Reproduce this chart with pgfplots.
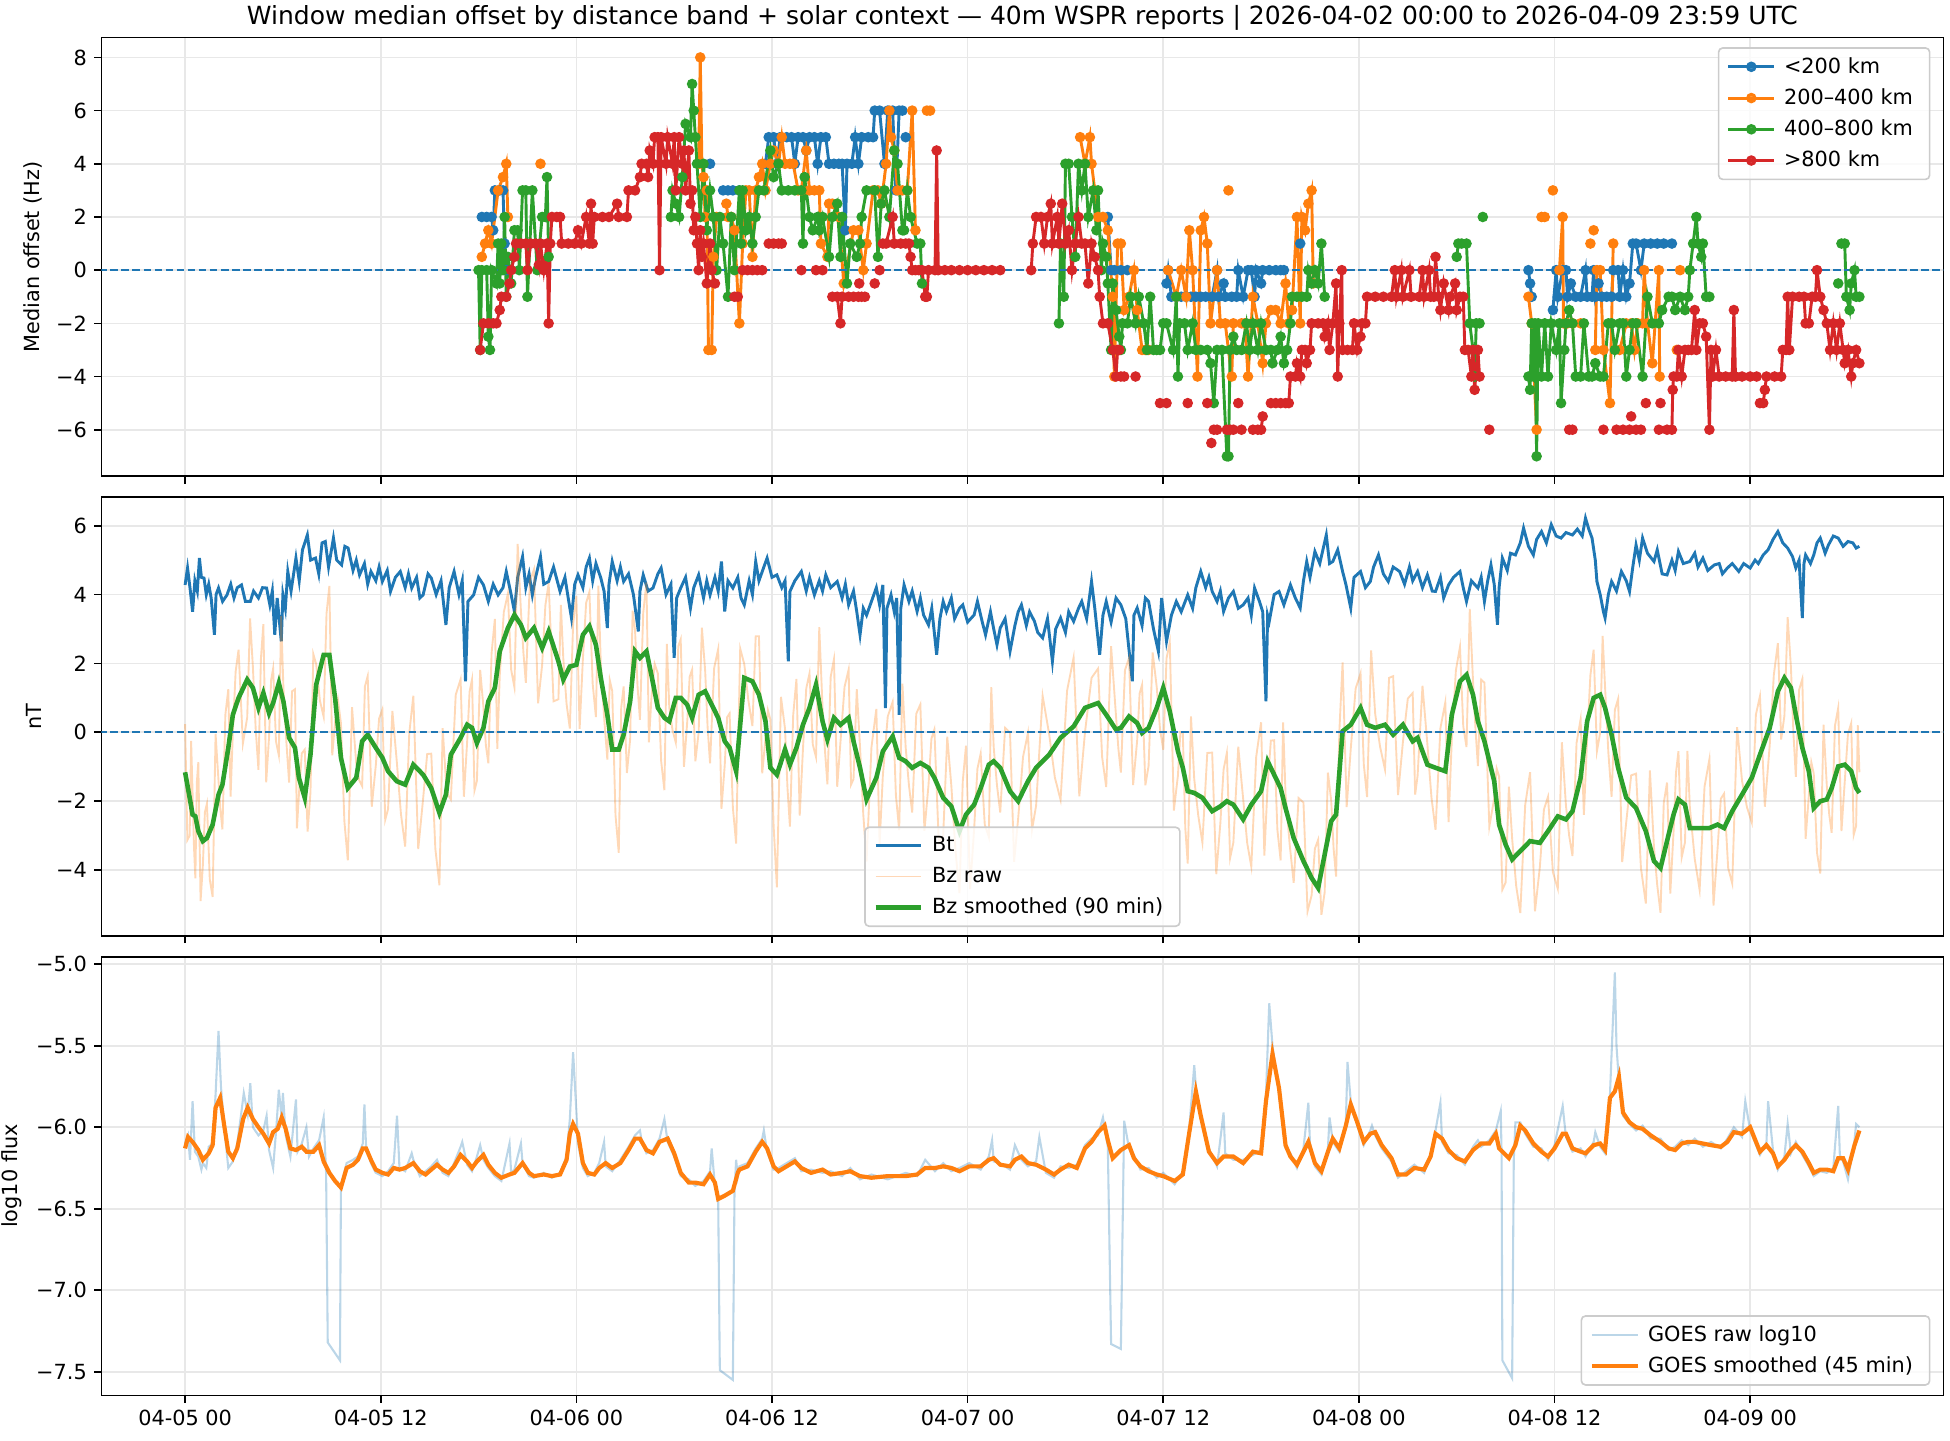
\documentclass[border=0pt]{standalone}
\usepackage{fontspec}
\setmainfont{DejaVu Sans}
\usepackage{pgfplots}
\pgfplotsset{compat=1.18}
\definecolor{C0}{HTML}{1F77B4}
\definecolor{C1}{HTML}{FF7F0E}
\definecolor{C2}{HTML}{2CA02C}
\definecolor{C3}{HTML}{D62728}
\definecolor{gridc}{HTML}{E8E8E8}
\definecolor{legc}{HTML}{CCCCCC}
\pgfplotsset{
 panel/.style={
  scale only axis, width=884.1pt, height=210.6pt,
  xmin=-5.13, xmax=107.85,
  xtick={0,12,...,96},
  grid=major, major grid style={gridc, line width=0.8pt},
  axis line style={line width=0.8pt, black},
  tick align=outside, tick pos=left,
  major tick length=3.5pt,
  every tick/.style={black, line width=0.8pt},
  tick label style={font=\fontsize{10}{12}\selectfont},
  label style={font=\fontsize{10}{12}\selectfont},
  unbounded coords=jump,
  legend cell align=left,
  legend image code/.code={\draw[mark repeat=2,mark phase=2,#1] plot coordinates {(0pt,0pt)(11pt,0pt)(22pt,0pt)};},
  legend style={draw=legc, rounded corners=2pt, fill=white, fill opacity=0.8, text opacity=1,
    line width=0.8pt, font=\fontsize{10}{12}\selectfont, inner xsep=4pt, inner ysep=2.5pt, row sep=1.9pt,
    nodes={inner xsep=4pt}},
 },
 zeroline/.style={C0, line width=1pt, dash pattern=on 3.7pt off 1.6pt, forget plot},
 off/.style={line width=1.4pt, mark=*, mark size=1.8pt},
}
\begin{document}
\begin{tikzpicture}
\path[use as bounding box] (0,0) rectangle (936pt,691.2pt);

%% ---------------- Panel 1 ----------------
\begin{axis}[panel, at={(48.7pt,462.6pt)}, anchor=south west,
  ymin=-7.75, ymax=8.75, ytick={-6,-4,-2,0,2,4,6,8},
  yticklabels={−6,−4,−2,0,2,4,6,8}, xticklabels={},
  ylabel={Median offset (Hz)},
  title={Window median offset by distance band + solar context — 40m WSPR reports | 2026-04-02 00:00 to 2026-04-09 23:59 UTC},
  title style={font=\fontsize{12}{14}\selectfont, yshift=-6pt},
  legend style={at={(0.993,0.978)}, anchor=north east}]
\addplot[C0, off, mark options={C0}] coordinates {
(18.2,2) (18.5,2) (18.8,2) (18.9,1.5) (19.0,3) (19.3,3) (19.5,3) (19.6,1) (19.7,0) (20,nan)
(32.2,4) (32.5,nan) (33.0,3) (33.3,3) (33.6,3) (34.0,3) (34.5,nan)
(35.6,4) (35.8,5) (36.1,5) (36.3,4) (36.5,5) (36.9,5) (37.2,5) (37.4,4) (37.6,5) (37.9,5) (38.1,4.5) (38.3,5) (38.6,5) (38.8,4) (39.0,5) (39.3,5) (39.5,4) (39.8,4) (40.1,4) (40.3,4) (40.5,1.5) (40.6,4) (40.9,4) (41.1,5) (41.3,4) (41.5,5) (41.9,5) (42.2,5) (42.3,6) (42.6,6) (42.9,4) (43.1,6) (43.4,6) (43.6,3) (43.8,6) (44.0,6) (44.1,nan) (44.2,5) (44.3,nan)
(56.6,2) (56.8,0) (57.0,0) (57.2,nan) (57.4,0) (57.8,0) (58,nan)
(60.2,-0.5) (60.3,0) (60.5,-1) (60.8,-1) (61.1,-1) (61.4,-1) (61.7,-1) (62.0,-1) (62.3,-1) (62.6,-1) (63.0,-1) (63.3,0) (63.4,-1) (63.7,-0.5) (63.8,-1) (64.2,-1) (64.5,-1) (64.6,0) (64.9,-1) (65.2,0) (65.4,0) (65.6,-1) (65.7,0) (66.0,-0.5) (66.1,0) (66.5,0) (66.9,0) (67.2,0) (67.4,0) (67.6,nan) (68.4,1) (68.6,nan)
(82.4,0) (82.5,-0.5) (82.6,-1) (82.8,nan) (83.9,-1.5) (84.1,0) (84.2,-1) (84.5,0) (84.7,0) (84.8,-1) (85.0,-0.5) (85.3,-1) (85.6,-1) (85.9,0) (86.0,-1) (86.3,-1) (86.4,0) (86.5,-1) (86.7,-0.5) (86.9,-1) (87.2,-1) (87.5,-1) (87.6,0) (87.9,0) (88.0,-1) (88.2,0) (88.4,-1) (88.6,-0.5) (88.8,1) (89.0,1) (89.3,0) (89.5,1) (89.9,1) (90.3,1) (90.7,1) (91.2,1)
};
\addlegendentry{<200 km}
\addplot[C1, off, mark options={C1}] coordinates {
(18.2,0.5) (18.4,1) (18.6,1.5) (18.8,1) (19.2,3) (19.5,3.5) (19.7,4) (19.8,2) (20,nan) (21.8,4) (22,nan)
(31.5,4) (31.6,8) (31.7,4) (31.8,3.5) (31.9,2) (32.0,3) (32.1,-3) (32.3,-3) (32.4,0.5) (32.6,2) (32.9,nan)
(33.2,2.5) (33.3,2) (33.5,2) (33.7,1.5) (34.0,-2) (34.2,1) (34.4,3) (34.6,3) (34.8,0.5) (35.0,3) (35.2,3.5) (35.4,4) (35.6,3) (35.9,4) (36.1,4.5) (36.4,4) (36.6,5) (36.8,4) (37.1,4) (37.3,4) (37.6,3) (37.8,3) (38.1,4.5) (38.3,3) (38.6,3) (38.9,3) (39.0,1) (39.4,0.5) (39.5,2.5) (39.7,2.5) (40.1,2) (40.4,-0.5) (41.0,1.5) (41.3,1.5) (41.6,0) (41.8,1) (42.2,3) (42.5,3) (42.7,2.5) (43.0,4) (43.2,6) (43.3,5) (43.5,4.5) (43.7,3) (44.0,3) (44.3,3) (44.6,6) (44.8,1.5) (45.1,nan) (45.5,6) (45.7,6) (46,nan)
(54.9,5) (55.2,4) (55.5,5) (55.6,4) (55.8,3) (56.0,2) (56.3,2) (56.6,1.5) (56.9,-1) (57.0,-4) (57.2,1) (57.4,1) (57.6,-1.5) (57.9,-1) (58.2,0) (58.4,-1.5) (58.7,-3) (58.9,-3) (59.1,-3) (59.5,nan)
(60.3,0) (60.8,-1) (61.1,0) (61.4,-1) (61.6,1.5) (61.8,0) (62.1,-4) (62.3,1.5) (62.5,2) (62.7,1) (62.9,-2) (63.3,0) (63.5,-2) (63.8,-2) (64.2,-4) (64.3,-2) (64.4,nan) (64.0,3) (64.1,nan)
(64.8,-2) (65.0,-2) (65.2,-4) (65.4,-2) (65.5,-1) (65.8,-2) (66.1,-3.5) (66.3,-2) (66.6,-1.5) (66.9,-1.5) (67.2,-2) (67.5,-0.5) (67.7,-2) (67.9,-1.5) (68.2,2) (68.4,-2) (68.5,2) (68.7,1.5) (68.9,2.5) (69.1,3) (69.2,-0.5) (69.4,nan)
(82.4,-1) (82.6,-2) (82.9,-6) (83.0,nan) (83.2,2) (83.4,2) (83.6,nan) (83.9,3) (84.1,nan) (84.3,0) (84.5,2) (84.55,-2) (84.8,-2) (85.1,-2) (85.6,-2) (85.9,nan) (86.2,1) (86.3,nan) (86.4,1.5) (86.45,nan)
(86.5,-3) (86.6,0) (86.8,0) (87.0,-3) (87.4,-5) (87.6,1) (87.8,nan) (88.0,-3) (88.4,-2) (88.7,-2) (88.9,-3) (89.1,-2) (89.4,-2) (89.5,0) (89.7,-2) (90.0,-3.5) (90.4,0) (90.45,-4) (90.7,nan) (91.5,-3) (91.6,nan) (91.7,0)
};
\addlegendentry{200–400 km}
\addplot[C2, off, mark options={C2}] coordinates {
(18.0,0) (18.1,-3) (18.2,0) (18.5,0) (18.6,-2.5) (18.7,-3) (18.8,0) (19.1,-0.5) (19.2,1) (19.3,-0.5) (19.4,1) (19.5,0) (19.6,2) (19.7,-1) (19.8,0.5) (20.0,-0.5) (20.2,1.5) (20.4,1.5) (20.5,0) (20.7,3) (20.9,3) (21.0,-1) (21.3,3) (21.6,0) (21.9,2) (22.1,2) (22.2,3.5) (22.3,0.5) (22.5,nan)
(29.8,2) (29.9,3) (30.1,2.5) (30.3,2) (30.5,3.5) (30.7,5.5) (31.0,5) (31.1,7) (31.2,6) (31.3,5) (31.4,4) (31.6,2) (31.8,4) (32.0,1.5) (32.2,3) (32.4,2) (32.6,0) (32.8,2) (33.0,1) (33.3,-1) (33.5,2) (33.7,0) (34.0,3) (34.1,1) (34.2,3) (34.4,1.5) (34.6,2) (34.8,1) (35.0,2) (35.2,3) (35.5,3) (35.9,4.5) (36.1,3.5) (36.4,4) (36.6,3) (37.0,3) (37.4,3) (37.8,3) (37.9,1) (38.0,3.5) (38.3,2) (38.5,1.5) (38.8,2) (38.9,1.5) (39.1,2) (39.5,0.5) (39.7,2) (40.0,2.5) (40.2,0.5) (40.3,2) (40.6,-0.5) (40.8,1) (41.2,0.5) (41.4,1) (41.5,2) (41.8,3) (42.3,3) (42.5,0.5) (42.7,2.5) (42.9,3) (43.2,2) (43.5,4.5) (43.7,4) (44.0,1.5) (44.1,1.5) (44.3,3) (44.5,2) (44.9,1) (45.1,1) (45.2,-0.5) (45.4,nan)
(53.6,-2) (53.7,1) (53.9,-1) (54.0,4) (54.2,4) (54.4,2) (54.6,0.5) (54.8,4) (55.0,3) (55.2,4) (55.4,2) (55.7,3) (55.9,1.5) (56.0,3) (56.2,0) (56.3,1) (56.5,0.5) (56.6,-0.5) (56.8,-3) (56.9,-0.5) (57.1,-1.5) (57.3,-2.5) (57.4,-3) (57.5,-2) (57.8,-2) (58.0,-1) (58.3,-2) (58.5,-1) (58.8,-2) (59.0,-3) (59.2,-1) (59.4,-3) (59.6,-3) (59.8,-3) (60.0,-2) (60.2,-2) (60.6,-3) (60.8,-1) (60.9,-4) (61.0,-2) (61.3,-2) (61.5,-3) (61.8,-2) (62.0,-3) (62.3,-3) (62.7,-3) (62.9,-3.5) (63.1,-5) (63.3,-3) (63.6,-3) (63.9,-7) (64.0,-7) (64.1,-3) (64.3,-2.5) (64.5,-3) (64.8,-3) (65.1,-2) (65.3,-3) (65.5,-2) (65.8,-3) (66.0,-2) (66.3,-3) (66.6,-3) (66.7,-3.5) (67.0,-3) (67.2,-2.5) (67.4,-3.5) (67.6,-3) (67.8,-2) (67.9,-1) (68.2,-1) (68.5,-1) (68.8,-1) (68.9,0) (69.1,-0.5) (69.3,0) (69.5,-0.5) (69.7,1) (69.9,-1) (70.1,nan)
(78.0,0.5) (78.1,1) (78.3,1) (78.6,1) (78.8,-2) (79.0,-3) (79.1,-4) (79.2,-2) (79.4,-2) (79.5,nan) (79.6,2) (79.7,nan)
(82.4,-4) (82.5,-4.5) (82.6,-2) (82.7,-4) (82.8,-2) (82.9,-7) (83.0,-2) (83.2,-4) (83.4,-2) (83.6,-4) (83.8,-2) (84.1,-3) (84.3,-2) (84.4,-5) (84.6,-3) (84.7,-2) (84.9,-1.5) (85.1,-2) (85.3,-4) (85.6,-4) (85.8,-2) (86.1,-4) (86.3,-4) (86.5,-3.5) (86.8,-4) (87.0,-4) (87.3,-2) (87.5,-2) (87.7,-3) (88.0,-2) (88.2,-2) (88.4,-4) (88.6,-3) (88.8,-2) (89.0,-2) (89.4,-4) (89.7,-1) (90.0,-2) (90.4,-2) (90.6,-1.5) (91.0,-1) (91.2,-1) (91.4,-1.5) (91.7,-1) (92.0,-1.5) (92.2,-1) (92.3,0) (92.5,1) (92.7,2) (92.8,1) (93.0,0.5) (93.1,1) (93.3,-1) (93.5,-1) (93.7,nan)
(101.4,-0.5) (101.5,nan) (101.6,1) (101.8,1) (101.9,-1) (102.1,-1.5) (102.2,-0.5) (102.4,0) (102.5,-1) (102.7,-1)
};
\addlegendentry{400–800 km}
\addplot[C3, off, mark options={C3}] coordinates {
(18.1,-3) (18.3,-2) (18.6,-2) (18.9,-2) (19.1,-2) (19.3,-1.5) (19.4,-1) (19.7,-1) (19.9,-0.5) (20.0,0) (20.2,0.5) (20.3,1) (20.6,1) (20.9,1) (21.0,0) (21.2,1) (21.5,1) (21.7,0.2) (21.8,1) (22.0,0) (22.2,1) (22.3,-2) (22.4,1) (22.5,2) (22.8,2) (23.0,2) (23.1,1) (23.5,1) (23.9,1) (24.1,1.5) (24.3,1) (24.6,2) (24.8,1) (24.9,2.5) (25.0,1) (25.1,2) (25.6,2) (26.0,2) (26.5,2.5) (26.6,2) (27.1,2) (27.2,3) (27.6,3) (27.9,3.5) (28.0,4) (28.3,4) (28.4,3.5) (28.5,4.5) (28.7,4) (28.8,5) (29.0,5) (29.1,0) (29.2,5) (29.5,4) (29.6,5) (29.9,4) (30.0,5) (30.1,3) (30.3,5) (30.5,4) (30.6,4.5) (30.7,3) (30.9,4.5) (31.0,2.5) (31.1,3) (31.2,1.5) (31.3,2) (31.4,1) (31.5,0) (31.6,1.5) (31.7,0.5) (31.8,1) (32.0,-0.5) (32.2,1) (32.3,0) (32.5,-0.5) (32.7,nan)
(33.7,-1) (33.9,-1) (34.0,nan) (34.2,0) (34.5,0) (34.8,0) (35.1,0) (35.4,0) (35.6,nan) (35.8,1) (36.1,1) (36.4,1) (36.6,1) (36.8,nan) (37.8,0) (38.0,nan) (38.7,0) (38.8,nan) (39.1,0) (39.3,nan)
(39.7,-1) (40.0,-1) (40.2,-2) (40.3,-1) (40.7,-1) (41.0,-1) (41.3,-1) (41.5,-1) (41.7,-1) (41.9,nan) (41.35,-0.5) (41.4,nan) (42.3,-0.5) (42.4,nan) (42.6,0) (42.7,nan)
(42.8,1) (43.0,1) (43.4,2) (43.5,1) (43.9,1) (44.2,1) (44.4,1) (44.5,0.5) (44.6,0) (44.8,0) (45.0,0) (45.2,0) (45.4,-1) (45.5,-1) (45.6,0) (46.0,0) (46.1,4.5) (46.2,0) (46.6,0) (47,0) (47.5,0) (48,0) (48.5,0) (49,0) (49.5,0) (50.0,0) (50.5,nan)
(51.9,0) (52.0,1) (52.2,2) (52.5,2) (52.7,1) (52.9,2) (53.1,2.5) (53.2,1) (53.5,2) (53.6,1) (53.8,2.5) (54.0,1) (54.2,1.5) (54.4,0) (54.6,1) (54.8,2) (55.0,1) (55.2,1) (55.4,-0.5) (55.6,1) (55.8,0.5) (56.0,0) (56.1,-1) (56.3,-2) (56.6,-2) (56.9,-3) (57.1,-4) (57.2,-3) (57.3,-3) (57.35,nan) (57.4,-4) (57.6,-4) (57.8,nan) (58.3,-4) (58.5,nan)
(59.8,-5) (60.2,-5) (60.4,nan) (61.5,-5) (61.6,nan) (62.7,-5) (62.8,nan) (62.95,-6.5) (63.0,nan) (63.1,-6) (63.3,-6) (63.5,nan) (63.9,-6) (64.1,-6) (64.3,-6) (64.5,nan) (64.6,-5) (64.7,nan) (64.8,-6) (65.0,nan)
(65.5,-6) (65.8,-6) (66.0,-6) (66.1,-5.5) (66.3,nan) (66.6,-5) (66.9,-5) (67.0,nan) (67.2,-5) (67.5,-5) (67.7,-5) (67.8,-4) (68.1,-4) (68.2,-3.5) (68.4,-4) (68.5,-3) (68.7,-3) (68.8,-3.5) (69.0,-3) (69.1,-2) (69.5,-2) (69.8,-2) (69.9,-2.5) (70.1,-2) (70.2,-3) (70.4,-2) (70.6,-0.5) (70.7,-4) (70.8,-2) (70.95,0) (71.0,-3) (71.3,-3) (71.6,-3) (71.7,-2) (71.9,-3) (72.1,-2.5) (72.2,-2) (72.4,-2) (72.5,-1) (73,-1) (73.5,-1) (74.0,-1) (74.2,0) (74.3,-1) (74.6,0) (74.7,-1) (75.1,0) (75.2,-1) (75.7,-1) (75.9,0) (76.0,-1) (76.3,0) (76.4,-1) (76.6,-1) (76.7,0.5) (76.9,-1) (77.0,-1.5) (77.2,-0.5) (77.5,-1.5) (77.6,-1) (77.9,-0.5) (78.0,-1.5) (78.2,-1) (78.4,-1) (78.5,-3) (78.7,-3) (78.9,-4) (79.0,-3) (79.1,-4.5) (79.3,-3) (79.4,-4) (79.7,nan) (80.0,-6) (80.2,nan)
(84.9,-6) (85.1,-6) (85.3,nan) (87.0,-6) (87.2,nan) (87.8,-6) (88.2,-6) (88.6,-6) (89.0,-6) (89.3,-6) (89.4,nan) (88.7,-5.5) (88.8,nan) (89.6,-5) (89.7,nan) (90.4,-6) (90.45,nan) (90.5,-5) (90.6,nan)
(90.9,-6) (91.2,-6) (91.25,-4.5) (91.3,-4) (91.5,-4) (91.6,-3) (91.8,-4) (92.0,-3) (92.2,-3) (92.4,-3) (92.6,-1.5) (92.7,-3) (92.9,-2) (93.1,-2) (93.3,-2.5) (93.5,-6) (93.6,-3) (93.7,-4) (93.9,-3) (94.1,-4) (94.5,-4) (94.9,-4) (95.0,-1.5) (95.1,-4) (95.5,-4) (96.0,-4) (96.4,-4) (96.5,nan) (96.6,-5) (96.8,-5) (96.9,-4.5) (97.0,-4) (97.5,-4) (97.9,-4) (98.0,-3) (98.2,-3) (98.3,-1) (98.4,-3) (98.6,-1) (99.0,-1) (99.3,-1) (99.4,-2) (99.6,-2) (99.8,-1) (100.0,-1) (100.1,0) (100.3,-1) (100.5,-1.5) (100.7,-2) (100.9,-3) (101.1,-2) (101.3,-3) (101.5,-2) (101.7,-3) (101.8,-3.5) (102.0,-3) (102.2,-4) (102.3,-3.5) (102.5,-3) (102.7,-3.5)
};
\addlegendentry{>800 km}
\addplot[zeroline] coordinates {(-10,0) (120,0)};
\end{axis}

%% ---------------- Panel 2 ----------------
\begin{axis}[panel, at={(48.7pt,242.0pt)}, anchor=south west,
  ymin=-5.91, ymax=6.83, ytick={-4,-2,0,2,4,6},
  yticklabels={−4,−2,0,2,4,6}, xticklabels={},
  ylabel={nT},
  legend style={at={(0.5,0.02)}, anchor=south}]
\addplot[C0, line width=1.4pt] coordinates {
(0,4.28) (0.15,4.77) (0.3,4.2) (0.46,3.5) (0.6,4.4) (0.75,4.1) (0.88,5.06) (1.0,4.5) (1.16,4.48) (1.3,4.0) (1.45,4.3) (1.6,3.9) (1.8,2.83) (1.9,4.0) (2.05,4.19) (2.3,3.8) (2.57,3.99) (2.8,4.3) (3.0,3.9) (3.2,4.2) (3.46,4.28) (3.7,3.8) (4.0,3.8) (4.2,4.1) (4.5,3.9) (4.75,4.2) (5.0,4.19) (5.2,3.7) (5.35,4.1) (5.5,2.83) (5.65,3.9) (5.9,2.64) (6.0,4.0) (6.15,3.6) (6.3,4.67) (6.5,4.1) (6.8,5.06) (7.0,4.4) (7.2,5.3) (7.5,5.73) (7.7,5.0) (8.0,5.06) (8.2,4.6) (8.4,5.5) (8.6,5.54) (8.8,4.8) (9.1,5.64) (9.3,5.0) (9.6,4.86) (9.8,5.4) (10.0,5.35) (10.3,4.7) (10.5,5.0) (10.7,4.57) (11.0,4.9) (11.2,4.3) (11.4,4.67) (11.7,4.4) (11.9,4.8) (12.1,4.38) (12.4,4.7) (12.6,4.09) (12.9,4.5) (13.2,4.67) (13.5,4.2) (13.7,4.6) (13.9,4.19) (14.2,4.5) (14.4,3.9) (14.6,3.99) (14.9,4.6) (15.1,4.48) (15.4,4.0) (15.7,4.4) (16.0,3.12) (16.2,4.2) (16.5,4.67) (16.8,4.0) (17.0,4.4) (17.2,1.48) (17.35,3.8) (17.7,3.99) (18.0,4.5) (18.3,4.28) (18.6,3.8) (18.9,4.3) (19.2,3.99) (19.5,4.2) (19.7,4.67) (20.0,4.0) (20.2,3.51) (20.4,4.5) (20.7,5.1) (20.9,4.2) (21.1,4.6) (21.3,3.99) (21.5,4.5) (21.8,5.1) (22.0,4.3) (22.3,4.38) (22.6,4.8) (23.0,4.09) (23.3,4.5) (23.5,3.9) (23.7,3.32) (23.9,4.3) (24.1,4.57) (24.4,4.2) (24.6,4.8) (24.8,5.06) (25.0,4.4) (25.2,4.9) (25.5,4.48) (25.7,4.1) (25.9,3.03) (26.0,4.3) (26.2,4.96) (26.5,4.4) (26.7,4.8) (26.9,4.38) (27.2,4.6) (27.5,4.0) (27.8,2.93) (27.9,4.1) (28.1,4.57) (28.4,4.1) (28.7,4.19) (29.0,4.6) (29.2,4.77) (29.5,4.0) (29.8,4.3) (30.0,2.16) (30.15,3.9) (30.4,4.19) (30.7,4.5) (31.0,3.61) (31.2,4.2) (31.5,4.57) (31.8,3.9) (32.0,4.4) (32.2,3.99) (32.5,4.5) (32.7,4.1) (32.9,4.96) (33.1,3.51) (33.3,4.4) (33.6,4.19) (33.9,4.5) (34.1,3.9) (34.3,3.7) (34.6,4.4) (34.8,4.0) (35.0,4.96) (35.2,4.4) (35.5,4.8) (35.7,5.06) (36.0,4.5) (36.3,4.57) (36.6,4.2) (36.8,4.4) (37.0,2.06) (37.1,4.09) (37.4,4.4) (37.8,4.67) (38.1,4.1) (38.3,4.5) (38.6,3.99) (38.9,4.4) (39.1,4.1) (39.3,4.57) (39.6,4.2) (40.0,4.38) (40.3,3.9) (40.5,4.3) (40.7,3.7) (41.0,4.1) (41.2,3.5) (41.4,2.83) (41.6,3.6) (41.8,3.4) (42.1,3.8) (42.4,4.2) (42.6,3.7) (42.8,4.28) (42.96,0.7) (43.05,3.6) (43.3,3.99) (43.5,3.5) (43.65,3.9) (43.8,0.51) (43.9,3.6) (44.1,4.28) (44.4,3.8) (44.6,4.1) (44.9,3.51) (45.1,3.9) (45.3,3.4) (45.6,3.12) (45.8,3.6) (46.1,2.25) (46.3,3.3) (46.5,3.8) (46.7,3.51) (47.0,3.9) (47.2,3.3) (47.5,3.6) (47.7,3.7) (48.0,3.2) (48.4,3.41) (48.6,3.8) (48.9,3.2) (49.1,2.83) (49.4,3.5) (49.6,3.0) (49.8,2.54) (50.0,3.03) (50.3,3.3) (50.6,2.35) (50.9,3.1) (51.1,3.5) (51.3,3.7) (51.6,3.1) (51.8,3.5) (52.1,3.22) (52.3,2.9) (52.6,2.74) (52.9,3.3) (53.2,2.06) (53.4,3.0) (53.7,3.32) (54.0,2.9) (54.2,3.5) (54.5,3.22) (54.8,3.6) (55.0,3.8) (55.3,3.3) (55.6,4.38) (55.8,3.6) (56.1,2.25) (56.3,3.4) (56.5,3.8) (56.8,3.2) (57.1,3.9) (57.4,3.7) (57.7,3.3) (58.1,1.48) (58.2,3.4) (58.4,3.61) (58.7,3.1) (58.9,3.9) (59.1,3.8) (59.4,3.0) (59.7,2.35) (59.9,3.9) (60.2,2.64) (60.5,3.4) (60.8,3.8) (61.1,3.5) (61.5,3.99) (61.8,3.6) (62.0,4.2) (62.3,4.67) (62.6,4.2) (62.8,4.5) (63.0,4.09) (63.3,3.8) (63.5,4.1) (63.7,3.51) (64.0,3.9) (64.3,4.09) (64.6,3.6) (64.9,3.7) (65.2,3.9) (65.4,3.4) (65.6,4.19) (65.9,3.8) (66.1,3.5) (66.3,0.9) (66.4,3.4) (66.5,3.22) (66.8,4.0) (67.1,4.09) (67.4,3.7) (67.8,4.28) (68.1,3.9) (68.4,3.61) (68.6,4.4) (68.8,4.96) (69.0,4.5) (69.3,5.25) (69.6,4.9) (70.0,5.73) (70.2,4.9) (70.4,4.96) (70.7,5.3) (71.0,4.67) (71.2,4.3) (71.5,3.61) (71.7,4.5) (72.1,4.67) (72.4,4.2) (72.7,4.38) (72.9,4.8) (73.2,5.15) (73.5,4.6) (73.8,4.38) (74.1,4.8) (74.5,4.67) (74.8,4.3) (75.1,4.8) (75.3,4.4) (75.6,4.67) (75.9,4.2) (76.2,4.57) (76.5,4.1) (76.7,4.09) (77.0,4.5) (77.2,3.9) (77.5,4.28) (77.8,4.5) (78.2,4.67) (78.4,4.2) (78.6,3.8) (78.9,4.4) (79.3,4.19) (79.5,4.5) (79.7,3.8) (79.9,4.4) (80.1,4.86) (80.3,4.3) (80.5,3.12) (80.6,4.2) (80.8,5.06) (81.1,4.7) (81.3,5.2) (81.6,5.15) (81.9,5.5) (82.1,5.93) (82.4,5.4) (82.7,5.15) (82.9,5.6) (83.2,5.83) (83.5,5.5) (83.8,6.03) (84.1,5.7) (84.4,5.64) (84.7,5.8) (85.1,5.73) (85.4,5.9) (85.7,5.7) (85.9,6.22) (86.1,5.9) (86.3,5.64) (86.5,5.0) (86.6,4.38) (86.8,4.0) (87.0,3.5) (87.1,3.32) (87.3,4.0) (87.5,4.38) (87.8,4.1) (88.1,4.67) (88.4,4.4) (88.6,4.09) (88.8,4.8) (89.0,5.44) (89.2,5.0) (89.4,5.64) (89.7,5.2) (90.1,4.96) (90.3,5.3) (90.6,4.6) (90.9,4.57) (91.2,5.0) (91.4,4.7) (91.6,5.25) (91.9,4.9) (92.3,4.96) (92.6,5.2) (92.8,4.8) (93.1,5.06) (93.4,4.7) (93.8,4.86) (94.1,4.9) (94.3,4.6) (94.6,4.77) (94.9,4.9) (95.3,4.67) (95.6,4.9) (96.0,4.77) (96.3,5.0) (96.5,4.9) (96.8,5.15) (97.1,5.3) (97.4,5.6) (97.7,5.83) (98.0,5.5) (98.3,5.35) (98.6,5.1) (98.8,4.77) (99.0,5.0) (99.2,3.32) (99.3,4.9) (99.4,5.15) (99.7,4.9) (99.9,5.15) (100.1,5.5) (100.3,5.64) (100.6,5.2) (100.8,5.44) (101.1,5.7) (101.4,5.64) (101.7,5.4) (102.0,5.54) (102.3,5.5) (102.5,5.35) (102.7,5.4)
};
\addlegendentry{Bt}
\addplot[C1, line width=0.9pt, opacity=0.3] coordinates {
(0,0.24) (0.14,-3.13) (0.28,-3.0) (0.37,-0.25) (0.46,-1.79) (0.545,-3.32) (0.63,-4.24) (0.72,-1.46) (0.81,-0.87) (0.95,-4.9) (1.09,-3.86) (1.215,-2.32) (1.34,-2.07) (1.515,-4.28) (1.69,-4.78) (1.87,-0.05) (2.05,-1.41) (2.17,-2.27) (2.29,-2.82) (2.47,0.51) (2.65,1.25) (2.79,-1.87) (2.93,0.01) (3.1,1.76) (3.28,2.4) (3.545,-0.33) (3.81,0.43) (3.985,3.31) (4.16,1.89) (4.33,0.1) (4.5,-1.09) (4.65,2.13) (4.8,3.14) (4.975,-1.45) (5.15,-0.14) (5.275,1.51) (5.4,1.85) (5.575,-0.26) (5.75,-0.67) (5.89,3.37) (6.03,1.3) (6.205,-0.23) (6.38,-1.46) (6.56,1.19) (6.74,1.25) (6.86,-2.79) (6.98,-1.82) (7.16,-0.61) (7.34,-0.5) (7.515,-2.88) (7.69,-1.75) (7.865,2.27) (8.04,1.98) (8.27,0.92) (8.5,0.45) (8.675,3.45) (8.85,4.25) (9.025,-0.67) (9.2,0.3) (9.38,0.93) (9.56,0.26) (9.77,-2.58) (9.98,-3.72) (10.24,0.73) (10.5,-0.92) (10.68,-1.39) (10.86,-1.56) (11.03,1.33) (11.2,1.63) (11.45,-2.16) (11.7,-0.95) (11.9,0.4) (12.1,0.66) (12.275,-2.54) (12.45,-2.23) (12.715,0.62) (12.98,-0.82) (13.24,-2.37) (13.5,-3.32) (13.75,-0.03) (14.0,1.06) (14.3,-3.39) (14.6,-1.93) (14.85,-0.63) (15.1,-0.62) (15.35,-3.38) (15.6,-4.44) (15.8,0.12) (16.0,-1.41) (16.15,-1.83) (16.3,-1.95) (16.6,1.09) (16.9,1.54) (17.1,-1.87) (17.3,-0.28) (17.45,1.18) (17.6,1.53) (17.75,-1.69) (17.9,-1.41) (18.1,1.81) (18.3,0.73) (18.45,-0.38) (18.6,-0.9) (18.8,2.3) (19.0,3.29) (19.15,-0.48) (19.3,1.65) (19.55,3.49) (19.8,4.03) (20.0,1.82) (20.2,1.31) (20.4,5.47) (20.6,3.52) (20.75,2.33) (20.9,1.44) (21.15,4.39) (21.4,4.73) (21.65,0.84) (21.9,1.95) (22.1,3.69) (22.3,4.33) (22.6,0.9) (22.9,0.96) (23.05,3.7) (23.2,2.13) (23.4,0.82) (23.6,0.11) (23.8,3.14) (24.0,3.96) (24.2,0.1) (24.4,2.13) (24.6,3.76) (24.8,4.08) (25.0,1.41) (25.2,0.44) (25.35,4.26) (25.5,1.98) (25.7,0.45) (25.9,-0.79) (26.05,1.51) (26.2,1.2) (26.4,-2.4) (26.6,-3.5) (26.75,0.71) (26.9,1.33) (27.1,-1.18) (27.3,-0.2) (27.45,3.53) (27.6,2.95) (27.75,1.36) (27.9,0.36) (28.1,3.46) (28.3,4.35) (28.45,-0.29) (28.6,0.97) (28.8,1.99) (29.0,1.71) (29.2,-0.83) (29.4,-1.68) (29.55,2.57) (29.7,0.72) (29.9,0.06) (30.1,-0.3) (30.25,2.5) (30.4,2.7) (30.6,-1.0) (30.8,0.3) (30.95,1.61) (31.1,1.82) (31.3,-0.84) (31.5,-0.01) (31.7,3.04) (31.9,1.79) (32.05,0.15) (32.2,-0.9) (32.45,1.86) (32.7,2.42) (32.9,-2.22) (33.1,-0.96) (33.25,0.44) (33.4,0.55) (33.6,-2.19) (33.8,-3.23) (34.05,2.43) (34.3,1.98) (34.55,0.93) (34.8,0.18) (35.0,2.79) (35.2,2.79) (35.4,-1.19) (35.6,-0.18) (35.75,0.64) (35.9,0.37) (36.1,-2.73) (36.3,-4.5) (36.55,1.03) (36.8,0.1) (36.95,-1.62) (37.1,-2.74) (37.3,0.5) (37.5,1.55) (37.7,-2.42) (37.9,-0.48) (38.1,1.27) (38.3,1.71) (38.5,-0.35) (38.7,-0.72) (38.9,3.05) (39.1,0.72) (39.25,-0.54) (39.4,-1.51) (39.6,1.61) (39.8,2.12) (40.0,-1.58) (40.2,-0.28) (40.45,1.32) (40.7,1.82) (40.85,-1.52) (41.0,-1.36) (41.2,1.25) (41.4,-0.43) (41.6,-2.39) (41.8,-3.75) (42.1,-0.44) (42.4,0.68) (42.6,-3.24) (42.8,-1.25) (43.1,0.46) (43.4,0.88) (43.6,-1.83) (43.8,-2.84) (44.0,1.41) (44.2,-0.44) (44.4,-1.54) (44.6,-2.33) (44.85,0.54) (45.1,0.81) (45.35,-2.86) (45.6,-1.53) (45.78,-0.18) (45.96,0.08) (46.23,-3.21) (46.5,-3.0) (46.75,-0.13) (47.0,-1.55) (47.25,-3.41) (47.5,-4.67) (47.7,-1.43) (47.9,-0.39) (48.15,-4.55) (48.4,-2.8) (48.6,-1.06) (48.8,-0.62) (49.05,-2.68) (49.3,-3.04) (49.45,1.31) (49.6,-0.44) (49.8,-1.54) (50.0,-2.33) (50.3,0.13) (50.6,-0.01) (50.85,-3.76) (51.1,-2.5) (51.4,-0.71) (51.7,-0.02) (51.95,-2.83) (52.2,-2.13) (52.6,1.06) (53.0,-0.05) (53.35,-1.31) (53.7,-1.96) (54.1,1.21) (54.5,2.17) (54.85,-1.86) (55.2,0.01) (55.6,1.58) (56.0,1.85) (56.25,-0.72) (56.5,-1.59) (56.8,2.5) (57.1,0.48) (57.25,-0.49) (57.4,-1.17) (57.65,1.8) (57.9,2.16) (58.15,-1.53) (58.4,-0.23) (58.55,1.13) (58.7,1.38) (58.9,-1.54) (59.1,-0.97) (59.35,2.32) (59.6,1.31) (59.8,0.1) (60.0,-0.51) (60.2,2.15) (60.4,2.61) (60.65,-2.27) (60.9,-1.25) (61.05,0.01) (61.2,-0.03) (61.35,-2.77) (61.5,-3.81) (61.7,0.46) (61.9,-1.36) (62.15,-2.43) (62.4,-3.2) (62.7,-0.6) (63.0,-0.59) (63.25,-4.12) (63.5,-2.65) (63.7,-1.08) (63.9,-0.6) (64.1,-3.65) (64.3,-3.2) (64.6,-0.42) (64.9,-1.93) (65.15,-3.22) (65.4,-3.9) (65.7,-0.71) (66.0,0.29) (66.2,-3.58) (66.4,-1.54) (66.6,-0.24) (66.8,-0.23) (67.0,-2.83) (67.2,-3.72) (67.35,0.29) (67.5,-1.8) (67.75,-3.24) (68.0,-4.37) (68.3,-1.91) (68.6,-2.04) (68.85,-5.2) (69.1,-4.73) (69.3,-3.38) (69.5,-3.12) (69.7,-5.3) (69.9,-4.65) (70.1,-1.17) (70.3,-1.98) (70.45,-3.39) (70.6,-4.19) (70.8,0.02) (71.0,2.03) (71.25,-2.17) (71.5,-0.48) (71.8,1.27) (72.1,1.71) (72.3,-0.93) (72.5,-1.88) (72.75,2.38) (73.0,0.53) (73.3,-0.42) (73.6,-1.08) (73.85,1.58) (74.1,1.63) (74.4,-1.82) (74.7,-0.28) (75.0,0.98) (75.3,1.14) (75.45,-1.81) (75.6,-1.26) (75.9,1.35) (76.2,-0.34) (76.45,-1.89) (76.7,-2.83) (77.0,0.12) (77.3,0.87) (77.5,-2.61) (77.7,-0.19) (77.95,1.8) (78.2,2.48) (78.4,0.18) (78.6,-0.43) (78.8,3.58) (79.0,1.49) (79.15,0.11) (79.3,-0.98) (79.5,1.53) (79.7,1.44) (80.0,-2.74) (80.3,-1.92) (80.45,-1.05) (80.6,-1.28) (80.8,-4.57) (81.0,-4.36) (81.2,-1.58) (81.4,-3.09) (81.65,-4.47) (81.9,-5.25) (82.2,-2.11) (82.5,-1.16) (82.8,-5.2) (83.1,-3.91) (83.35,-2.24) (83.6,-1.87) (83.9,-4.06) (84.2,-4.54) (84.45,-0.29) (84.7,-2.13) (84.9,-3.01) (85.1,-3.59) (85.35,-0.31) (85.6,0.38) (85.8,-2.4) (86.0,-0.18) (86.2,1.66) (86.4,2.4) (86.6,-0.55) (86.8,-0.01) (86.95,2.8) (87.1,1.31) (87.3,-0.58) (87.5,-1.87) (87.7,0.65) (87.9,0.97) (88.15,-3.77) (88.4,-2.6) (88.7,-1.25) (89.0,-1.2) (89.3,-3.94) (89.6,-4.97) (89.85,-1.11) (90.1,-3.34) (90.3,-4.44) (90.5,-5.24) (90.7,-2.05) (90.9,-1.46) (91.1,-4.68) (91.3,-2.89) (91.45,-1.17) (91.6,-0.55) (91.8,-3.63) (92.0,-3.2) (92.15,-0.54) (92.3,-2.18) (92.6,-3.68) (92.9,-4.58) (93.2,-1.58) (93.5,-0.78) (93.75,-5.03) (94.0,-3.38) (94.2,-1.93) (94.4,-1.78) (94.65,-3.94) (94.9,-4.39) (95.2,0.15) (95.5,-1.41) (95.8,-2.17) (96.1,-2.62) (96.35,0.51) (96.6,1.05) (96.9,-2.16) (97.2,-0.37) (97.45,1.66) (97.7,2.59) (97.9,-0.21) (98.1,0.48) (98.3,3.34) (98.5,1.89) (98.65,0.0) (98.8,-1.29) (99.0,1.23) (99.2,1.55) (99.4,-3.09) (99.6,-1.83) (99.75,-0.87) (99.9,-1.2) (100.1,-3.5) (100.3,-4.1) (100.5,0.22) (100.7,-1.55) (100.85,-2.39) (101.0,-2.92) (101.2,0.19) (101.4,0.71) (101.6,-2.87) (101.8,-1.44) (102.0,-0.04) (102.2,0.27) (102.35,-2.98) (102.5,-2.72) (102.6,0.21) (102.7,-1.16)
};
\addlegendentry{Bz raw}
\addplot[C2, line width=2.2pt] coordinates {
(0,-1.16) (0.28,-1.9) (0.46,-2.39) (0.63,-2.44) (0.81,-2.87) (1.09,-3.16) (1.34,-3.07) (1.69,-2.68) (2.05,-1.81) (2.29,-1.52) (2.65,-0.45) (2.93,0.51) (3.28,1.0) (3.81,1.53) (4.16,1.29) (4.5,0.71) (4.8,1.14) (5.15,0.56) (5.4,0.85) (5.75,1.43) (6.03,0.9) (6.38,-0.16) (6.74,-0.45) (6.98,-1.32) (7.34,-1.9) (7.69,-0.65) (8.04,1.38) (8.5,2.25) (8.85,2.25) (9.2,1.0) (9.56,-0.74) (9.98,-1.62) (10.5,-1.32) (10.86,-0.26) (11.2,-0.07) (11.7,-0.45) (12.1,-0.74) (12.45,-1.13) (12.98,-1.42) (13.5,-1.52) (14.0,-0.94) (14.6,-1.23) (15.1,-1.62) (15.6,-2.34) (16.0,-1.81) (16.3,-0.65) (16.9,-0.16) (17.3,0.22) (17.6,0.13) (17.9,-0.31) (18.3,0.13) (18.6,0.9) (19.0,1.29) (19.3,2.35) (19.8,3.03) (20.2,3.41) (20.6,3.12) (20.9,2.74) (21.4,3.03) (21.9,2.45) (22.3,2.93) (22.9,2.06) (23.2,1.53) (23.6,1.91) (24.0,1.96) (24.4,2.83) (24.8,3.08) (25.2,2.54) (25.5,1.58) (25.9,0.51) (26.2,-0.5) (26.6,-0.5) (26.9,-0.07) (27.3,0.9) (27.6,2.35) (27.9,2.16) (28.3,2.35) (28.6,1.67) (29.0,0.71) (29.4,0.42) (29.7,0.32) (30.1,1.0) (30.4,1.0) (30.8,0.8) (31.1,0.42) (31.5,1.09) (31.9,1.19) (32.2,0.9) (32.7,0.42) (33.1,-0.26) (33.4,-0.45) (33.8,-1.13) (34.3,1.58) (34.8,1.48) (35.2,1.09) (35.6,0.32) (35.9,-1.03) (36.3,-1.23) (36.8,-0.5) (37.1,-0.94) (37.5,-0.45) (37.9,0.22) (38.3,0.71) (38.7,1.38) (39.1,0.32) (39.4,-0.21) (39.8,0.42) (40.2,0.22) (40.7,0.42) (41.0,-0.26) (41.4,-1.03) (41.8,-1.95) (42.4,-1.32) (42.8,-0.55) (43.4,-0.12) (43.8,-0.74) (44.2,-0.84) (44.6,-1.03) (45.1,-0.89) (45.6,-1.03) (45.96,-1.32) (46.5,-1.9) (47.0,-2.15) (47.5,-2.87) (47.9,-2.39) (48.4,-2.1) (48.8,-1.62) (49.3,-0.94) (49.6,-0.84) (50.0,-1.03) (50.6,-1.71) (51.1,-2.0) (51.7,-1.42) (52.2,-1.03) (53.0,-0.65) (53.7,-0.16) (54.5,0.17) (55.2,0.71) (56.0,0.85) (56.5,0.51) (57.1,0.08) (57.4,0.13) (57.9,0.46) (58.4,0.27) (58.7,-0.02) (59.1,0.13) (59.6,0.71) (60.0,1.29) (60.4,0.61) (60.9,-0.55) (61.2,-1.03) (61.5,-1.71) (61.9,-1.76) (62.4,-1.9) (63.0,-2.29) (63.5,-2.15) (63.9,-2.0) (64.3,-2.1) (64.9,-2.53) (65.4,-2.1) (66.0,-1.71) (66.4,-0.84) (66.8,-1.23) (67.2,-1.62) (67.5,-2.2) (68.0,-3.07) (68.6,-3.74) (69.1,-4.23) (69.5,-4.52) (69.9,-3.55) (70.3,-2.58) (70.6,-2.39) (71.0,0.03) (71.5,0.22) (72.1,0.71) (72.5,0.22) (73.0,0.13) (73.6,0.22) (74.1,-0.07) (74.7,0.22) (75.3,-0.26) (75.6,-0.16) (76.2,-0.94) (76.7,-1.03) (77.3,-1.13) (77.7,0.51) (78.2,1.48) (78.6,1.67) (79.0,1.09) (79.3,0.32) (79.7,-0.26) (80.3,-1.42) (80.6,-2.68) (81.0,-3.26) (81.4,-3.69) (81.9,-3.45) (82.5,-3.16) (83.1,-3.21) (83.6,-2.87) (84.2,-2.44) (84.7,-2.53) (85.1,-2.29) (85.6,-1.32) (86.0,0.32) (86.4,1.0) (86.8,1.09) (87.1,0.71) (87.5,-0.07) (87.9,-1.03) (88.4,-1.9) (89.0,-2.2) (89.6,-2.87) (90.1,-3.74) (90.5,-3.94) (90.9,-3.16) (91.3,-2.39) (91.6,-1.95) (92.0,-2.1) (92.3,-2.78) (92.9,-2.78) (93.5,-2.78) (94.0,-2.68) (94.4,-2.78) (94.9,-2.29) (95.5,-1.81) (96.1,-1.32) (96.6,-0.65) (97.2,0.13) (97.7,1.19) (98.1,1.58) (98.5,1.29) (98.8,0.51) (99.2,-0.45) (99.6,-1.13) (99.9,-2.2) (100.3,-2.0) (100.7,-1.95) (101.0,-1.62) (101.4,-0.99) (101.8,-0.94) (102.2,-1.13) (102.5,-1.62) (102.7,-1.76)
};
\addlegendentry{Bz smoothed (90 min)}
\addplot[zeroline] coordinates {(-10,0) (120,0)};
\end{axis}

%% ---------------- Panel 3 ----------------
\begin{axis}[panel, at={(48.7pt,21.4pt)}, anchor=south west,
  ymin=-7.645, ymax=-4.954, ytick={-7.5,-7,-6.5,-6,-5.5,-5},
  yticklabels={−7.5,−7.0,−6.5,−6.0,−5.5,−5.0},
  xticklabels={04-05 00,04-05 12,04-06 00,04-06 12,04-07 00,04-07 12,04-08 00,04-08 12,04-09 00},
  ylabel={log10 flux},
  legend style={at={(0.993,0.022)}, anchor=south east}]
\addplot[C0, line width=1pt, opacity=0.3] coordinates {
(0,-6.10) (0.18,-6.05) (0.3,-6.20) (0.46,-5.84) (0.6,-6.15) (0.81,-6.18) (1.0,-6.26) (1.09,-6.22) (1.3,-6.25) (1.45,-6.12) (1.69,-6.10) (1.87,-5.80) (2.05,-5.41) (2.2,-5.75) (2.4,-6.0) (2.65,-6.25) (2.93,-6.21) (3.2,-6.10) (3.4,-5.95) (3.6,-5.79) (3.84,-5.92) (4.0,-5.73) (4.16,-6.00) (4.5,-6.05) (4.8,-6.02) (5.0,-5.93) (5.15,-6.14) (5.4,-6.25) (5.6,-6.0) (5.75,-5.77) (5.93,-5.95) (6.0,-5.79) (6.17,-6.05) (6.46,-6.18) (6.8,-5.83) (6.9,-6.15) (7.16,-6.10) (7.44,-6.00) (7.6,-6.18) (7.87,-6.13) (8.22,-6.08) (8.5,-5.94) (8.65,-6.28) (8.75,-7.32) (9.5,-7.43) (9.56,-6.36) (9.7,-6.30) (9.91,-6.22) (10.3,-6.20) (10.6,-6.18) (10.9,-6.10) (11.0,-5.86) (11.1,-6.12) (11.4,-6.22) (11.7,-6.28) (12.1,-6.30) (12.45,-6.27) (12.8,-6.22) (13.0,-5.93) (13.15,-6.25) (13.5,-6.27) (13.9,-6.16) (14.0,-6.20) (14.4,-6.30) (14.75,-6.27) (15.1,-6.24) (15.45,-6.20) (15.8,-6.28) (16.15,-6.30) (16.5,-6.22) (16.9,-6.12) (17.0,-6.09) (17.3,-6.23) (17.6,-6.27) (17.9,-6.18) (18.1,-6.11) (18.3,-6.20) (18.6,-6.25) (19.0,-6.30) (19.4,-6.33) (19.9,-6.10) (20.0,-6.28) (20.2,-6.26) (20.6,-6.10) (20.7,-6.22) (21.1,-6.30) (21.4,-6.31) (22.0,-6.28) (22.5,-6.31) (23.0,-6.28) (23.4,-6.18) (23.6,-5.95) (23.8,-5.54) (24.0,-5.90) (24.1,-6.10) (24.4,-6.25) (24.7,-6.30) (25.1,-6.28) (25.4,-6.22) (25.7,-6.09) (25.8,-6.24) (26.2,-6.27) (26.7,-6.20) (27.2,-6.12) (27.6,-6.05) (27.9,-6.02) (28.0,-6.08) (28.3,-6.16) (28.7,-6.14) (29.1,-6.07) (29.4,-5.95) (29.6,-6.09) (30.0,-6.18) (30.4,-6.30) (30.9,-6.32) (31.3,-6.36) (31.8,-6.33) (32.2,-6.27) (32.3,-6.13) (32.5,-6.36) (32.7,-6.45) (32.8,-7.49) (33.6,-7.55) (33.7,-6.40) (33.8,-6.20) (33.9,-6.30) (34.0,-6.24) (34.5,-6.22) (35.0,-6.13) (35.4,-6.07) (35.5,-6.02) (35.7,-6.15) (36.1,-6.26) (36.4,-6.25) (36.9,-6.22) (37.4,-6.19) (37.8,-6.27) (38.4,-6.26) (39.1,-6.28) (39.6,-6.27) (40.3,-6.30) (40.8,-6.25) (41.4,-6.32) (42.1,-6.29) (43.1,-6.32) (44.2,-6.28) (44.9,-6.30) (45.4,-6.20) (46.0,-6.27) (46.5,-6.22) (47.0,-6.27) (47.5,-6.25) (48.1,-6.22) (48.8,-6.26) (49.3,-6.18) (49.5,-6.08) (49.6,-6.21) (50.0,-6.22) (50.6,-6.26) (50.9,-6.11) (51.3,-6.20) (51.7,-6.24) (52.2,-6.21) (52.4,-6.06) (52.8,-6.28) (53.3,-6.31) (53.7,-6.24) (54.2,-6.25) (54.7,-6.23) (55.2,-6.11) (55.6,-6.07) (56.0,-6.05) (56.3,-5.94) (56.6,-6.12) (56.8,-7.33) (57.4,-7.36) (57.6,-5.96) (57.9,-6.13) (58.2,-6.17) (58.6,-6.26) (59.1,-6.25) (59.6,-6.31) (60.0,-6.28) (60.7,-6.35) (61.2,-6.27) (61.6,-6.00) (61.9,-5.62) (62.0,-5.75) (62.3,-5.95) (62.8,-6.13) (63.3,-6.24) (63.7,-5.91) (63.8,-6.16) (64.3,-6.20) (64.9,-6.20) (65.5,-6.17) (66.0,-6.14) (66.3,-5.80) (66.5,-5.24) (66.7,-5.50) (67.1,-5.80) (67.5,-6.13) (67.8,-6.16) (68.2,-6.25) (68.6,-6.13) (68.9,-5.85) (69.0,-6.10) (69.3,-6.24) (69.7,-6.29) (70.1,-6.13) (70.2,-5.94) (70.4,-6.09) (70.8,-6.15) (71.2,-5.97) (71.3,-5.60) (71.5,-5.84) (71.9,-5.99) (72.3,-6.11) (72.7,-6.02) (72.8,-5.99) (73.0,-6.05) (73.4,-6.13) (74.0,-6.21) (74.4,-6.31) (74.9,-6.27) (75.4,-6.23) (76.0,-6.28) (76.4,-6.16) (76.7,-6.02) (77.0,-5.85) (77.1,-6.09) (77.5,-6.16) (78.0,-6.17) (78.5,-6.23) (79.0,-6.12) (79.3,-6.08) (79.5,-6.12) (80.0,-6.08) (80.4,-6.02) (80.7,-5.90) (80.75,-6.15) (80.8,-7.43) (81.4,-7.54) (81.5,-6.20) (81.6,-5.97) (81.9,-5.97) (82.2,-6.04) (82.7,-6.12) (83.2,-6.13) (83.6,-6.20) (84.0,-6.11) (84.5,-5.87) (84.7,-6.06) (85.1,-6.15) (85.6,-6.13) (85.9,-6.18) (86.4,-6.09) (86.5,-6.03) (86.8,-6.12) (87.1,-6.16) (87.4,-5.80) (87.6,-5.30) (87.7,-5.05) (87.8,-5.50) (87.95,-5.72) (88.2,-5.93) (88.6,-5.98) (89.0,-6.02) (89.4,-5.99) (89.9,-6.07) (90.5,-6.07) (91.0,-6.14) (91.4,-6.12) (91.8,-6.08) (92.2,-6.11) (92.6,-6.07) (93.1,-6.12) (93.6,-6.09) (94.2,-6.13) (94.6,-6.07) (95.0,-6.00) (95.5,-6.06) (95.7,-5.84) (96.0,-6.02) (96.2,-6.07) (96.6,-6.17) (97.0,-6.09) (97.1,-5.84) (97.4,-6.14) (97.7,-6.26) (98.1,-6.18) (98.3,-5.98) (98.5,-6.16) (98.8,-6.09) (99.2,-6.17) (99.6,-6.24) (99.9,-6.30) (100.3,-6.27) (100.7,-6.28) (101.1,-6.25) (101.4,-5.87) (101.5,-6.17) (101.7,-6.21) (102.0,-6.32) (102.4,-6.08) (102.5,-5.98) (102.7,-6.00)
};
\addlegendentry{GOES raw log10}
\addplot[C1, line width=2pt] coordinates {
(0,-6.13) (0.18,-6.06) (0.46,-6.09) (0.81,-6.14) (1.09,-6.2) (1.45,-6.16) (1.69,-6.11) (1.87,-5.88) (2.15,-5.82) (2.4,-5.99) (2.65,-6.15) (2.93,-6.19) (3.2,-6.13) (3.56,-5.95) (3.84,-5.88) (4.16,-5.95) (4.5,-6.0) (4.8,-6.04) (5.15,-6.1) (5.4,-6.03) (5.68,-6.01) (5.93,-5.94) (6.17,-6.01) (6.46,-6.13) (6.8,-6.14) (7.16,-6.12) (7.44,-6.15) (7.87,-6.15) (8.22,-6.11) (8.5,-6.21) (8.85,-6.28) (9.2,-6.33) (9.56,-6.37) (9.91,-6.25) (10.3,-6.23) (10.6,-6.2) (10.9,-6.13) (11.1,-6.13) (11.4,-6.2) (11.7,-6.26) (12.1,-6.28) (12.45,-6.29) (12.8,-6.25) (13.15,-6.26) (13.5,-6.25) (14.0,-6.22) (14.4,-6.27) (14.75,-6.29) (15.1,-6.26) (15.45,-6.23) (15.8,-6.26) (16.15,-6.28) (16.5,-6.24) (16.9,-6.17) (17.3,-6.21) (17.6,-6.25) (17.9,-6.21) (18.3,-6.17) (18.6,-6.23) (19.0,-6.28) (19.4,-6.31) (19.9,-6.29) (20.2,-6.28) (20.7,-6.22) (21.1,-6.28) (21.4,-6.3) (22.0,-6.29) (22.5,-6.3) (23.0,-6.29) (23.4,-6.2) (23.6,-6.04) (23.8,-5.98) (24.1,-6.04) (24.4,-6.22) (24.7,-6.28) (25.1,-6.29) (25.4,-6.25) (25.8,-6.22) (26.2,-6.25) (26.7,-6.22) (27.2,-6.14) (27.6,-6.07) (27.9,-6.07) (28.3,-6.14) (28.7,-6.16) (29.1,-6.09) (29.6,-6.07) (30.0,-6.16) (30.4,-6.28) (30.9,-6.34) (31.3,-6.34) (31.8,-6.35) (32.2,-6.29) (32.5,-6.34) (32.7,-6.44) (33.1,-6.42) (33.6,-6.39) (33.9,-6.28) (34.0,-6.26) (34.5,-6.24) (35.0,-6.15) (35.4,-6.09) (35.7,-6.13) (36.1,-6.24) (36.4,-6.27) (36.9,-6.24) (37.4,-6.21) (37.8,-6.25) (38.4,-6.28) (39.1,-6.26) (39.6,-6.29) (40.3,-6.28) (40.8,-6.27) (41.4,-6.3) (42.1,-6.31) (43.1,-6.3) (44.2,-6.3) (44.9,-6.29) (45.4,-6.25) (46.0,-6.25) (46.5,-6.24) (47.0,-6.25) (47.5,-6.27) (48.1,-6.24) (48.8,-6.24) (49.3,-6.2) (49.6,-6.19) (50.0,-6.23) (50.6,-6.24) (50.9,-6.2) (51.3,-6.18) (51.7,-6.22) (52.2,-6.23) (52.8,-6.26) (53.3,-6.29) (53.7,-6.26) (54.2,-6.23) (54.7,-6.25) (55.2,-6.13) (55.6,-6.09) (56.0,-6.03) (56.4,-5.99) (56.6,-6.08) (56.9,-6.19) (57.4,-6.14) (57.9,-6.11) (58.2,-6.19) (58.6,-6.24) (59.1,-6.27) (59.6,-6.29) (60.0,-6.3) (60.7,-6.33) (61.2,-6.29) (61.6,-6.03) (62.0,-5.78) (62.3,-5.93) (62.8,-6.15) (63.3,-6.22) (63.7,-6.18) (64.3,-6.18) (64.9,-6.22) (65.5,-6.15) (66.0,-6.16) (66.3,-5.84) (66.7,-5.55) (67.1,-5.76) (67.5,-6.11) (67.8,-6.18) (68.2,-6.23) (68.6,-6.15) (68.9,-6.09) (69.3,-6.22) (69.7,-6.27) (70.1,-6.15) (70.4,-6.07) (70.8,-6.13) (71.2,-5.99) (71.5,-5.86) (71.9,-5.97) (72.3,-6.09) (72.7,-6.04) (73.0,-6.03) (73.4,-6.11) (74.0,-6.19) (74.4,-6.29) (74.9,-6.29) (75.4,-6.25) (76.0,-6.26) (76.4,-6.18) (76.7,-6.04) (77.1,-6.07) (77.5,-6.14) (78.0,-6.19) (78.5,-6.21) (79.0,-6.14) (79.5,-6.1) (80.0,-6.1) (80.4,-6.04) (80.6,-6.13) (81.2,-6.19) (81.6,-6.11) (81.9,-5.99) (82.2,-6.02) (82.7,-6.1) (83.2,-6.15) (83.6,-6.18) (84.0,-6.13) (84.5,-6.04) (84.7,-6.04) (85.1,-6.13) (85.6,-6.15) (85.9,-6.16) (86.4,-6.11) (86.8,-6.1) (87.1,-6.14) (87.4,-5.82) (87.7,-5.78) (87.95,-5.69) (88.2,-5.91) (88.6,-5.97) (89.0,-6.0) (89.4,-6.01) (89.9,-6.05) (90.5,-6.09) (91.0,-6.13) (91.4,-6.14) (91.8,-6.1) (92.2,-6.09) (92.6,-6.09) (93.1,-6.1) (93.6,-6.11) (94.2,-6.12) (94.6,-6.09) (95.0,-6.03) (95.5,-6.04) (96.0,-6.0) (96.2,-6.05) (96.6,-6.15) (97.0,-6.11) (97.4,-6.16) (97.7,-6.24) (98.1,-6.2) (98.5,-6.14) (98.8,-6.11) (99.2,-6.15) (99.6,-6.22) (99.9,-6.28) (100.3,-6.26) (100.7,-6.26) (101.1,-6.27) (101.4,-6.19) (101.7,-6.19) (102.0,-6.26) (102.4,-6.11) (102.7,-6.02)
};
\addlegendentry{GOES smoothed (45 min)}
\end{axis}
\end{tikzpicture}
\end{document}
